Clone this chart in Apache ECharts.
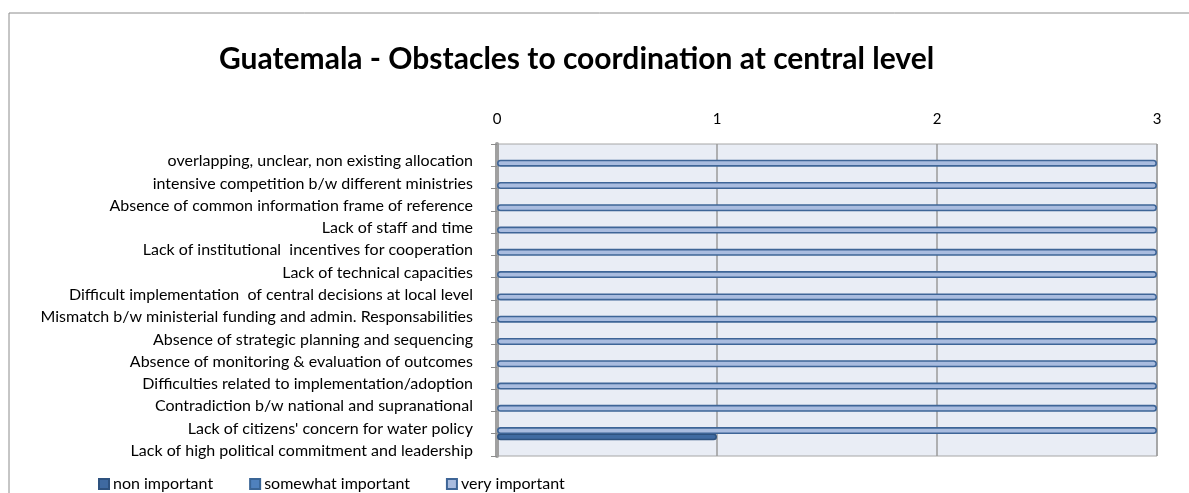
<!DOCTYPE html>
<html>
<head>
<meta charset="utf-8">
<script src="https://cdn.jsdelivr.net/npm/echarts@6/dist/echarts.min.js"></script>
<style>
  html, body { margin: 0; padding: 0; background: #ffffff; }
  #chart { width: 1189px; height: 493px; }
</style>
</head>
<body>
<div id="chart"></div>
<script>
// Obstacles to coordination, listed top to bottom
const categories = [
  "overlapping, unclear, non existing allocation",
  "intensive competition b/w different ministries",
  "Absence of common information frame of reference",
  "Lack of staff and time",
  "Lack of institutional  incentives for cooperation",
  "Lack of technical capacities",
  "Difficult implementation  of central decisions at local level",
  "Mismatch b/w ministerial funding and admin. Responsabilities",
  "Absence of strategic planning and sequencing",
  "Absence of monitoring & evaluation of outcomes",
  "Difficulties related to implementation/adoption",
  "Contradiction b/w national and supranational",
  "Lack of citizens' concern for water policy",
  "Lack of high political commitment and leadership"
];

// Number of responses per rating
const nonImportant      = [0, 0, 0, 0, 0, 0, 0, 0, 0, 0, 0, 0, 0, 1];
const somewhatImportant = [0, 0, 0, 0, 0, 0, 0, 0, 0, 0, 0, 0, 0, 0];
const veryImportant     = [3, 3, 3, 3, 3, 3, 3, 3, 3, 3, 3, 3, 3, 0];

const seriesNames = ["non important", "somewhat important", "very important"];
const xTicks = { min: 0, max: 3, interval: 1 };

const FONT = "Lato, 'Open Sans', sans-serif";

const chart = echarts.init(document.getElementById('chart'), null, { renderer: 'canvas' });

function barSeries(name, data, fill, border) {
  return {
    name: name,
    type: 'bar',
    // empty responses are left undrawn
    data: data.map(v => v === 0 ? null : v),
    barWidth: 7,
    barGap: '15%',
    itemStyle: {
      color: fill,
      borderColor: border,
      borderWidth: 1.6,
      borderRadius: 3
    },
    emphasis: { disabled: true }
  };
}

chart.setOption({
  animation: false,
  backgroundColor: '#ffffff',
  title: {
    text: 'Guatemala - Obstacles to coordination at central level',
    left: 214,
    top: 39,
    textStyle: { fontFamily: FONT, fontWeight: 'bold', fontSize: 30, color: '#000000' }
  },
  legend: {
    data: seriesNames,
    left: 93,
    top: 471,
    itemWidth: 10,
    itemHeight: 10,
    itemGap: 36,
    icon: 'rect',
    textStyle: { fontFamily: FONT, fontSize: 16, color: '#000000', padding: [0, 0, 0, -1] }
  },
  graphic: [{
    type: 'rect',
    shape: { x: 9, y: 13, width: 1300, height: 600 },
    style: { fill: 'none', stroke: '#8c8c8c', lineWidth: 1 },
    silent: true,
    z: -10
  }],
  grid: {
    left: 497,
    right: 32,
    top: 144,
    bottom: 37,
    show: true,
    backgroundColor: '#e9edf5',
    borderColor: '#a6a6a6',
    borderWidth: 1
  },
  xAxis: {
    type: 'value',
    position: 'top',
    min: xTicks.min,
    max: xTicks.max,
    interval: xTicks.interval,
    axisLine: { show: false },
    axisTick: { show: false },
    axisLabel: { fontFamily: FONT, fontSize: 15, color: '#000000', margin: 17 },
    splitLine: { show: true, lineStyle: { color: '#9a9a9a', width: 1.5 } }
  },
  yAxis: {
    type: 'category',
    inverse: true,
    data: categories,
    axisLine: { show: true, lineStyle: { color: '#a0a0a0', width: 4 } },
    axisTick: { show: true, length: 6, lineStyle: { color: '#8c8c8c', width: 1 } },
    axisLabel: {
      fontFamily: FONT, fontSize: 16, color: '#000000', margin: 24,
      verticalAlign: 'top', lineHeight: 12
    },
    splitLine: { show: false }
  },
  series: [
    barSeries(seriesNames[0], nonImportant, '#3f6aa1', '#2e527f'),
    barSeries(seriesNames[1], somewhatImportant, '#4f81bd', '#3a6596'),
    barSeries(seriesNames[2], veryImportant, '#a9bcdf', '#3e6597')
  ]
});
</script>
</body>
</html>
